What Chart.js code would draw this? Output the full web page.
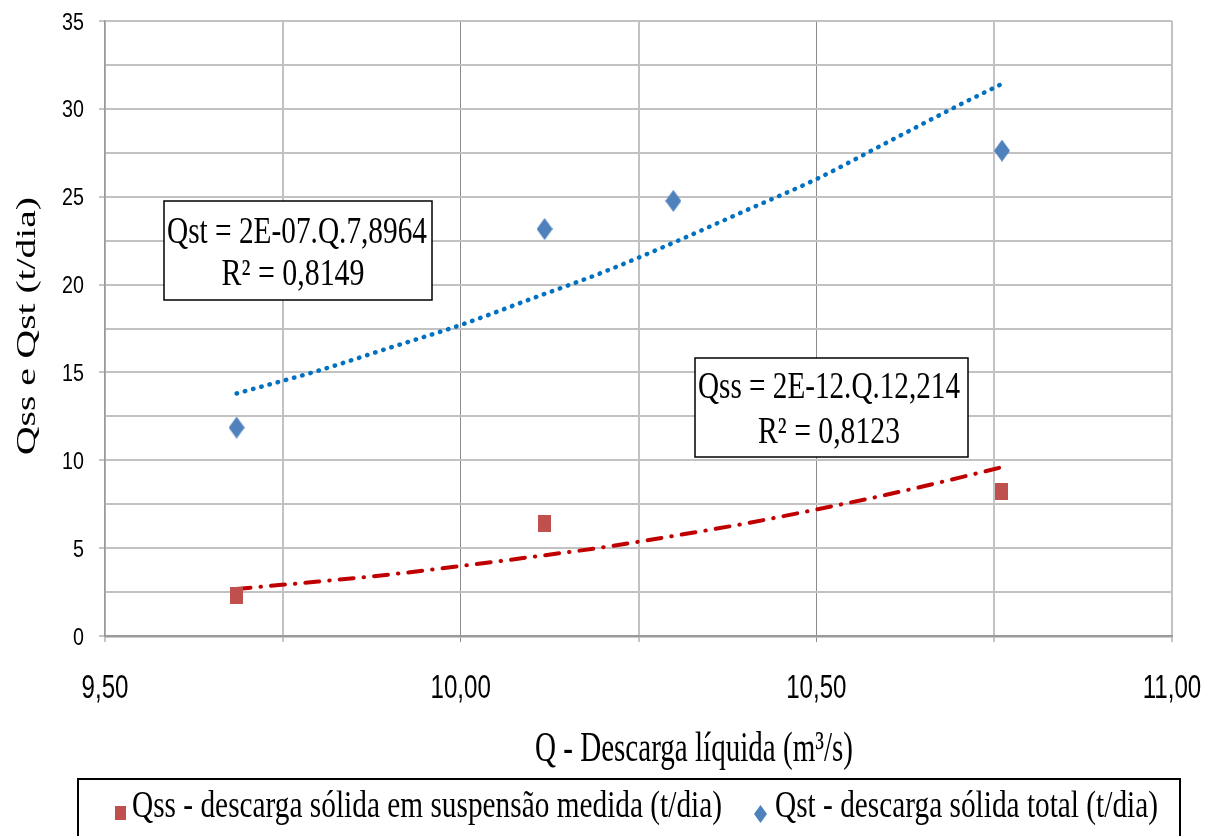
<!DOCTYPE html>
<html>
<head>
<meta charset="utf-8">
<script src="https://cdn.jsdelivr.net/npm/chart.js@4.4.1/dist/chart.umd.min.js"></script>
<style>
    html, body { margin: 0; padding: 0; background: #fff; }
    #wrap { width: 1206px; height: 836px; }
</style>
</head>
<body>
<div id="wrap"><canvas id="chart" width="1206" height="836"></canvas></div>
<script>
// ===== DATA =====
const qValues = [9.685, 10.118, 10.299, 10.761];
const qssValues = [2.28, 6.41, null, 8.25];
const qstValues = [11.86, 23.16, 24.76, 27.62];

// trend lines
const trendQ = [9.685, 9.8, 9.9, 10.0, 10.1, 10.2, 10.3, 10.4, 10.5, 10.6, 10.7, 10.76];
const qssTrend = [2.68, 3.1, 3.5, 3.98, 4.5, 5.05, 5.7, 6.4, 7.2, 8.05, 9.0, 9.6];
const qstTrend = [13.8, 15.1, 16.4, 17.7, 19.2, 20.7, 22.4, 24.2, 26.0, 28.1, 30.2, 31.4];

const xLabelTicks = [9.5, 10.0, 10.5, 11.0];
const yLabelTicks = [0, 5, 10, 15, 20, 25, 30, 35];

const seriesNames = ['Qss - descarga sólida em suspensão medida (t/dia)', 'Qst - descarga sólida total (t/dia)'];
const eqQst = ['Qst = 2E-07.Q.7,8964', 'R² = 0,8149'];
const eqQss = ['Qss = 2E-12.Q.12,214', 'R² = 0,8123'];
const xTitle = 'Q - Descarga líquida (m³/s)';
const yTitle = 'Qss e Qst (t/dia)';

const RED = '#C0504D', BLUE = '#4F81BD';
const SERIF = '"Liberation Serif", "Times New Roman", serif';
const SANS = '"Liberation Sans", Arial, sans-serif';

function makeMarker(w, h, color, shape) {
    const c = document.createElement('canvas');
    c.width = w; c.height = h;
    const g = c.getContext('2d');
    g.fillStyle = color;
    if (shape === 'diamond') {
        g.beginPath();
        g.moveTo(w / 2, 0); g.lineTo(w, h / 2); g.lineTo(w / 2, h); g.lineTo(0, h / 2);
        g.closePath(); g.fill();
    } else g.fillRect(0, 0, w, h);
    return c;
}

const squareImg = makeMarker(13, 17, RED, 'square');
const diamondImg = makeMarker(16, 22, BLUE, 'diamond');

const pts = (xs, ys) => xs.map((x, i) => ({ x: x, y: ys[i] })).filter(p => p.y !== null);
const fmtX = v => v.toFixed(2).replace('.', ',');

// text drawn with a horizontal squeeze (the original picture is stretched)
function drawScaled(ctx, text, x, y, font, sx, align) {
    ctx.save();
    ctx.font = font;
    ctx.translate(x, y);
    ctx.scale(sx, 1);
    ctx.textAlign = align || 'center';
    ctx.fillStyle = '#000';
    ctx.fillText(text, 0, 0);
    ctx.restore();
}

function drawFit(ctx, text, x, y, font, width, align) {
    ctx.save();
    ctx.font = font;
    const w = ctx.measureText(text).width;
    ctx.restore();
    drawScaled(ctx, text, x, y, font, width / w, align);
}

function eqBox(ctx, lines, box, rows) {
    ctx.save();
    ctx.fillStyle = '#fff';
    ctx.fillRect(box[0], box[1], box[2], box[3]);
    ctx.strokeStyle = '#000';
    ctx.lineWidth = 1.5;
    ctx.strokeRect(box[0], box[1], box[2], box[3]);
    ctx.restore();
    lines.forEach((t, i) => drawFit(ctx, t, rows[i][0], rows[i][1], '38px ' + SERIF, rows[i][2]));
}

// ===== TEXT PLUGIN =====
const textPlugin = {
    id: 'texts',
    afterDraw(chart) {
        const ctx = chart.ctx;
        const xs = chart.scales.x, ys = chart.scales.y;
        ctx.textBaseline = 'alphabetic';

        // tick labels
        xLabelTicks.forEach(v => drawScaled(ctx, fmtX(v), xs.getPixelForValue(v), 698, '33px ' + SANS, 0.73));
        yLabelTicks.forEach(v => drawScaled(ctx, String(v), 84, ys.getPixelForValue(v) + 8.5, '24px ' + SANS, 0.82, 'right'));

        eqBox(ctx, eqQst, [164, 201, 268, 99], [[297, 243, 260], [293, 285, 143]]);
        eqBox(ctx, eqQss, [695, 358, 273, 99], [[829, 398, 262], [829, 443, 142]]);

        drawFit(ctx, xTitle, 694, 761, '43px ' + SERIF, 318);

        ctx.save();
        ctx.translate(28, 326);
        ctx.rotate(-Math.PI / 2);
        ctx.textBaseline = 'middle';
        drawFit(ctx, yTitle, 0, 0, '27px ' + SERIF, 258);
        ctx.restore();

        // legend
        ctx.save();
        ctx.strokeStyle = '#000';
        ctx.lineWidth = 2;
        ctx.strokeRect(78, 779, 1102, 80);
        ctx.drawImage(makeMarker(11, 14, RED, 'square'), 115, 806);
        ctx.drawImage(makeMarker(13, 18, BLUE, 'diamond'), 754, 805);
        ctx.restore();
        drawFit(ctx, seriesNames[0], 132, 817, '38px ' + SERIF, 590, 'left');
        drawFit(ctx, seriesNames[1], 775, 817, '38px ' + SERIF, 383, 'left');
    }
};

const noPad = s => { s.paddingLeft = 0; s.paddingRight = 0; s.paddingTop = 0; s.paddingBottom = 0; };

// ===== CHART =====
new Chart(document.getElementById('chart'), {
    type: 'scatter',
    data: {
        datasets: [
            {
                label: seriesNames[0], data: pts(qValues, qssValues), order: 1,
                pointStyle: squareImg, pointRadius: 8, backgroundColor: RED, borderColor: RED
            },
            {
                label: seriesNames[1], data: pts(qValues, qstValues), order: 1,
                pointStyle: diamondImg, pointRadius: 10, backgroundColor: BLUE, borderColor: BLUE
            },
            {
                label: 'trend Qss', data: pts(trendQ, qssTrend), order: 2, showLine: true, pointRadius: 0,
                borderColor: '#C00000', borderWidth: 4, borderDash: [14, 10, 0.5, 10],
                borderCapStyle: 'round', cubicInterpolationMode: 'monotone'
            },
            {
                label: 'trend Qst', data: pts(trendQ, qstTrend), order: 2, showLine: true, pointRadius: 0,
                borderColor: '#0070C0', borderWidth: 4.5, borderDash: [0.5, 8],
                borderCapStyle: 'round', cubicInterpolationMode: 'monotone'
            }
        ]
    },
    options: {
        responsive: false,
        animation: false,
        events: [],
        layout: { padding: { top: 21, right: 34, left: 0, bottom: 0 } },
        plugins: { legend: { display: false }, tooltip: { enabled: false } },
        scales: {
            x: {
                type: 'linear', min: 9.5, max: 11,
                afterFit: s => { s.height = 200; noPad(s); },
                ticks: { stepSize: 0.25, autoSkip: false, maxRotation: 0, display: false },
                grid: {
                    color: c => (c.tick && (c.tick.value === 10 || c.tick.value === 10.5)) ? '#8c8c8c' : '#c2c2c2',
                    lineWidth: c => (c.tick && (c.tick.value === 10 || c.tick.value === 10.5)) ? 1 : 2,
                    tickColor: '#8c8c8c', tickLength: 6, tickWidth: 1
                },
                border: { color: '#9a9a9a', width: 2.5 }
            },
            y: {
                min: 0, max: 35,
                afterFit: s => { s.width = 105; noPad(s); },
                ticks: { stepSize: 2.5, display: false },
                grid: {
                    color: '#c2c2c2', lineWidth: 2, tickLength: 6, tickWidth: 1,
                    tickColor: c => (c.tick && yLabelTicks.includes(c.tick.value)) ? '#8c8c8c' : 'rgba(0,0,0,0)'
                },
                border: { color: '#9a9a9a', width: 1.5 }
            }
        }
    },
    plugins: [textPlugin]
});
</script>
</body>
</html>
